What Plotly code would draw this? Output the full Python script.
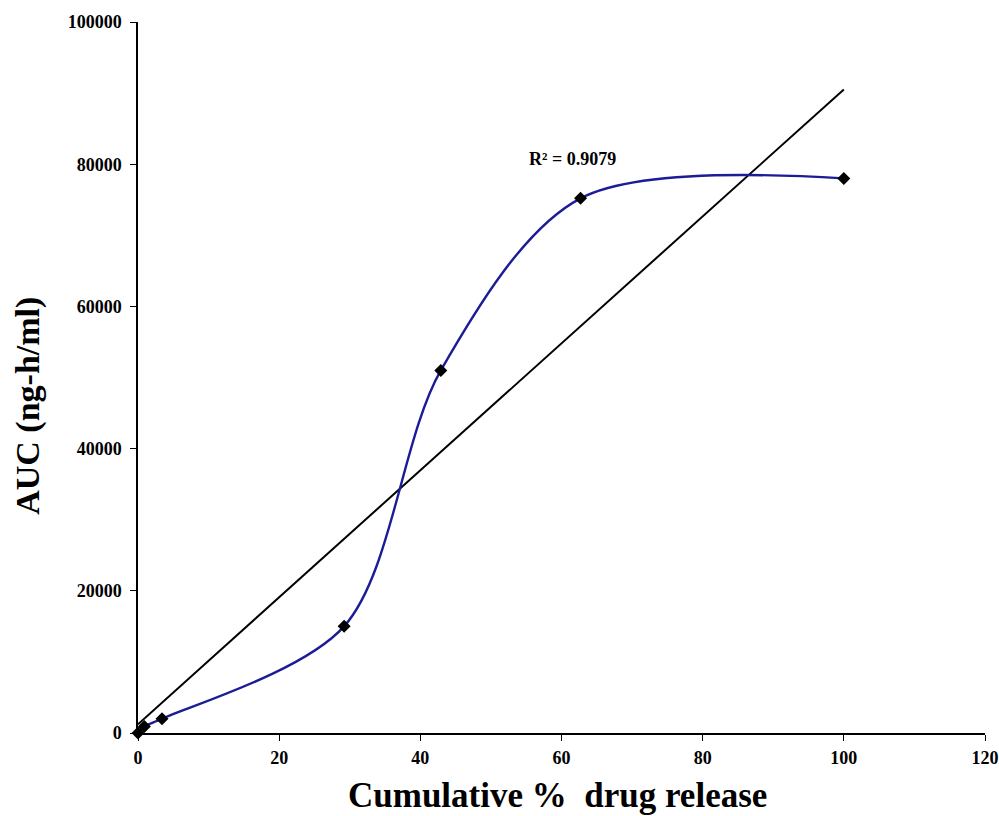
import numpy as np
import plotly.graph_objects as go

release = [0, 0.9, 3.4, 29.2, 42.9, 62.7, 100]
auc = [0, 900, 2000, 15000, 51000, 75200, 78000]
r2_label = "R² = 0.9079"

slope, intercept = np.polyfit(release, auc, 1)
fit_x = [0, 100]
fit_y = [intercept + slope * v for v in fit_x]

serif = "Liberation Serif, Times New Roman, serif"

fig = go.Figure()
fig.add_trace(go.Scatter(x=fit_x, y=fit_y, mode="lines",
                         line=dict(color="black", width=2), cliponaxis=False,
                         showlegend=False))
fig.add_trace(go.Scatter(x=release, y=auc, mode="lines+markers",
                         line=dict(color="#1c1c96", width=2.4, shape="spline", smoothing=0.9),
                         marker=dict(symbol="diamond", size=10, color="black"),
                         cliponaxis=False, showlegend=False))

axis_common = dict(showgrid=False, zeroline=False, showline=True, linecolor="black",
                   linewidth=1.5, ticks="outside", ticklen=6, tickcolor="black",
                   automargin=False, tickformat="d",
                   tickfont=dict(family=serif, size=18, color="black", weight="bold"))

fig.update_layout(
    width=999, height=816,
    margin=dict(l=138, r=14, t=22, b=83),
    plot_bgcolor="white", paper_bgcolor="white",
    font=dict(family=serif, color="black"),
    xaxis=dict(range=[0, 120], tickvals=[0, 20, 40, 60, 80, 100, 120],
               ticklabelstandoff=2, **axis_common),
    yaxis=dict(range=[0, 100000], tickvals=[0, 20000, 40000, 60000, 80000, 100000],
               ticklabelstandoff=5, **axis_common),
    annotations=[
        dict(text="<b>" + r2_label + "</b>", x=61.5, y=80700, xref="x", yref="y",
             showarrow=False, font=dict(family=serif, size=18, color="black")),
        dict(text="<b>Cumulative %  drug release</b>", xref="paper", yref="paper",
             x=0.495, y=-0.0886, yanchor="middle", showarrow=False,
             font=dict(family=serif, size=35, color="black")),
        dict(text="<b>AUC (ng-h/ml)</b>", xref="paper", yref="paper",
             x=-0.130, y=0.46, textangle=-90, xanchor="center", yanchor="middle",
             showarrow=False, font=dict(family=serif, size=34, color="black")),
    ],
)

fig.write_html("out.html", config={"displayModeBar": False},
               post_script="document.body.style.margin='0';document.body.style.overflow='hidden';")
